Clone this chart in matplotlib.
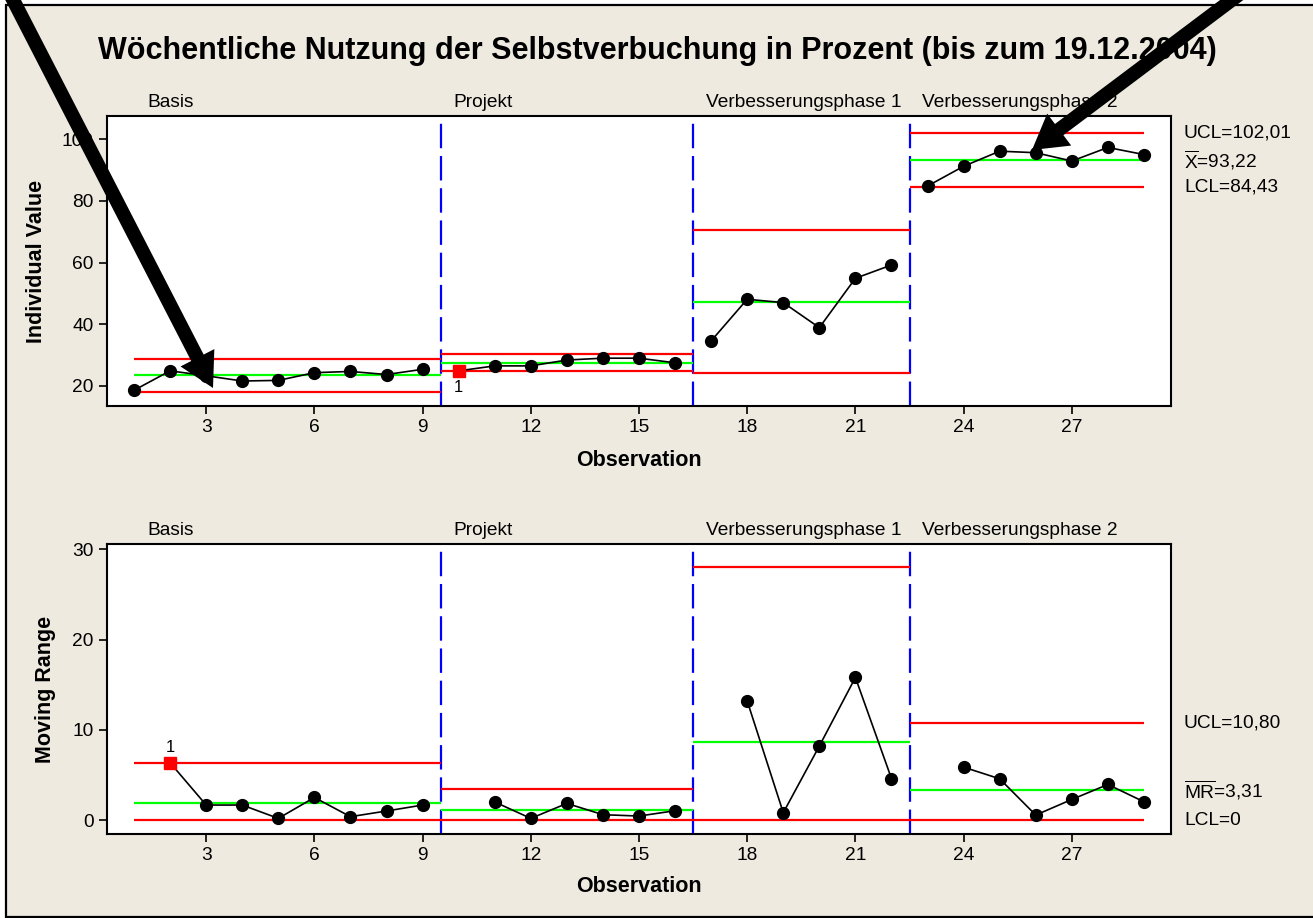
import numpy as np
import matplotlib.pyplot as plt
from matplotlib.patches import FancyArrow, Rectangle
import matplotlib.transforms as mtransforms

plt.rcParams['font.family'] = ['Liberation Sans', 'DejaVu Sans']
plt.rcParams['mathtext.fontset'] = 'custom'
plt.rcParams['mathtext.rm'] = 'Liberation Sans'

# --- data ---
title = "Wöchentliche Nutzung der Selbstverbuchung in Prozent (bis zum 19.12.2004)"
stage_names = ["Basis", "Projekt", "Verbesserungsphase 1", "Verbesserungsphase 2"]
stage_first = [1, 10, 17, 23]
stage_last = [9, 16, 22, 29]

individual = [18.6, 24.9, 23.3, 21.6, 21.8, 24.3, 24.7, 23.7, 25.4,
              24.9, 26.5, 26.5, 28.4, 29.0, 29.0, 27.5,
              34.6, 48.1, 47.0, 38.9, 54.9, 59.2,
              84.8, 91.2, 96.1, 95.6, 92.9, 97.3, 95.0]
moving_range = [np.nan, 6.35, 1.66, 1.66, 0.18, 2.5, 0.37, 1.0, 1.66,
                np.nan, 2.0, 0.18, 1.84, 0.59, 0.44, 1.03,
                np.nan, 13.2, 0.81, 8.2, 15.8, 4.6,
                np.nan, 5.86, 4.57, 0.55, 2.28, 3.94, 2.02]

i_ucl = [28.6, 30.35, 70.5, 102.01]
i_cl = [23.4, 27.3, 47.2, 93.22]
i_lcl = [18.1, 25.0, 24.3, 84.43]
mr_ucl = [6.3, 3.39, 28.0, 10.80]
mr_cl = [1.91, 1.1, 8.66, 3.31]
mr_lcl = [0, 0, 0, 0]

i_flags = [10]
mr_flags = [2]

x_ticks = [3, 6, 9, 12, 15, 18, 21, 24, 27]
i_yticks = [20, 40, 60, 80, 100]
mr_yticks = [0, 10, 20, 30]

i_labels = ["UCL=102,01", r"$\overline{\mathrm{X}}$=93,22", "LCL=84,43"]
mr_labels = ["UCL=10,80", r"$\overline{\mathrm{MR}}$=3,31", "LCL=0"]

BG = '#EEEAE0'
W, H = 1313, 918

fig = plt.figure(figsize=(W / 100, H / 100), dpi=100)
fig.patch.set_facecolor('white')
fig.add_artist(Rectangle((6 / W, 1 - 917 / H), 1.2, (917 - 5) / H,
                         transform=fig.transFigure, facecolor=BG,
                         edgecolor='black', lw=1.6, zorder=-5))

starts = [stage_first[0]] + [f - 0.5 for f in stage_first[1:]]
ends = [f - 0.5 for f in stage_first[1:]] + [stage_last[-1]]


def draw_panel(ax, values, ucl, cl, lcl, flags, flag_dy, ylim, yticks, labels):
    ax.set_facecolor('white')
    for s in range(len(stage_names)):
        xs = np.arange(stage_first[s], stage_last[s] + 1)
        ys = np.array(values[stage_first[s] - 1:stage_last[s]], dtype=float)
        ok = ~np.isnan(ys)
        ax.plot(xs[ok], ys[ok], color='black', lw=1.2, zorder=4)
        normal = ok & ~np.isin(xs, flags)
        ax.plot(xs[normal], ys[normal], color='black', ls='none', marker='o', ms=8.5, zorder=5)
        ax.hlines(ucl[s], starts[s], ends[s], color='red', lw=1.6, zorder=3)
        ax.hlines(lcl[s], starts[s], ends[s], color='red', lw=1.6, zorder=3)
        ax.hlines(cl[s], starts[s], ends[s], color='#00FF00', lw=1.6, zorder=3)
        ax.text(starts[s] + 0.36, 1.045, stage_names[s], fontsize=13.8,
                transform=mtransforms.blended_transform_factory(ax.transData, ax.transAxes),
                ha='left', va='center', clip_on=False)
    for b in starts[1:]:
        ax.axvline(b, color='#0000FF', lw=1.6, dashes=(11, 3.5), zorder=2)
    for f in flags:
        ax.plot(f, values[f - 1], marker='s', ms=8, color='red', mec='red', zorder=6, ls='none')
        ax.annotate('1', (f, values[f - 1]), xytext=(0, flag_dy), textcoords='offset points',
                    ha='center', va='center', fontsize=12)
    tr = mtransforms.blended_transform_factory(ax.transAxes, ax.transData)
    for lab, yv in zip(labels, [ucl[-1], cl[-1], lcl[-1]]):
        ax.text(1.0122, yv, lab, transform=tr, fontsize=13.8, ha='left', va='center')
    ax.set_xlim(0.25, 29.75)
    ax.set_ylim(*ylim)
    ax.set_xticks(x_ticks)
    ax.set_yticks(yticks)
    ax.tick_params(direction='out', length=6, width=1.2, labelsize=13.8)
    for sp in ax.spines.values():
        sp.set_linewidth(1.5)


ax1 = fig.add_axes([107 / W, 1 - 406 / H, (1171 - 107) / W, 290 / H])
draw_panel(ax1, individual, i_ucl, i_cl, i_lcl, i_flags, -12,
           (13.5, 107.5), i_yticks, i_labels)
ax2 = fig.add_axes([107 / W, 1 - 834 / H, (1171 - 107) / W, 290 / H])
draw_panel(ax2, moving_range, mr_ucl, mr_cl, mr_lcl, mr_flags, 11,
           (-1.55, 30.6), mr_yticks, mr_labels)

fig.text(0.501, 1 - 51 / H, title, fontsize=22, fontweight='bold', ha='center', va='center')
fig.text(639 / W, 1 - 461 / H, "Observation", fontsize=15.5, fontweight='bold', ha='center', va='center')
fig.text(639 / W, 1 - 887 / H, "Observation", fontsize=15.5, fontweight='bold', ha='center', va='center')
fig.text(37 / W, 1 - 261 / H, "Individual Value", fontsize=15.5, fontweight='bold',
         rotation=90, ha='center', va='center')
fig.text(46 / W, 1 - 689 / H, "Moving Range", fontsize=15.5, fontweight='bold',
         rotation=90, ha='center', va='center')

# big black arrows drawn on top, in pixel coordinates
ov = fig.add_axes([0, 0, 1, 1], zorder=10)
ov.set_xlim(0, W)
ov.set_ylim(H, 0)
ov.axis('off')
ov.add_patch(FancyArrow(8, -10, 205, 398, width=14, head_width=38, head_length=34,
                        length_includes_head=True, fc='black', ec='black', lw=0))
ov.add_patch(FancyArrow(1245, -10, -213, 160, width=14, head_width=40, head_length=34,
                        length_includes_head=True, fc='black', ec='black', lw=0))

fig.savefig('out.png', dpi=100, facecolor=fig.get_facecolor())
